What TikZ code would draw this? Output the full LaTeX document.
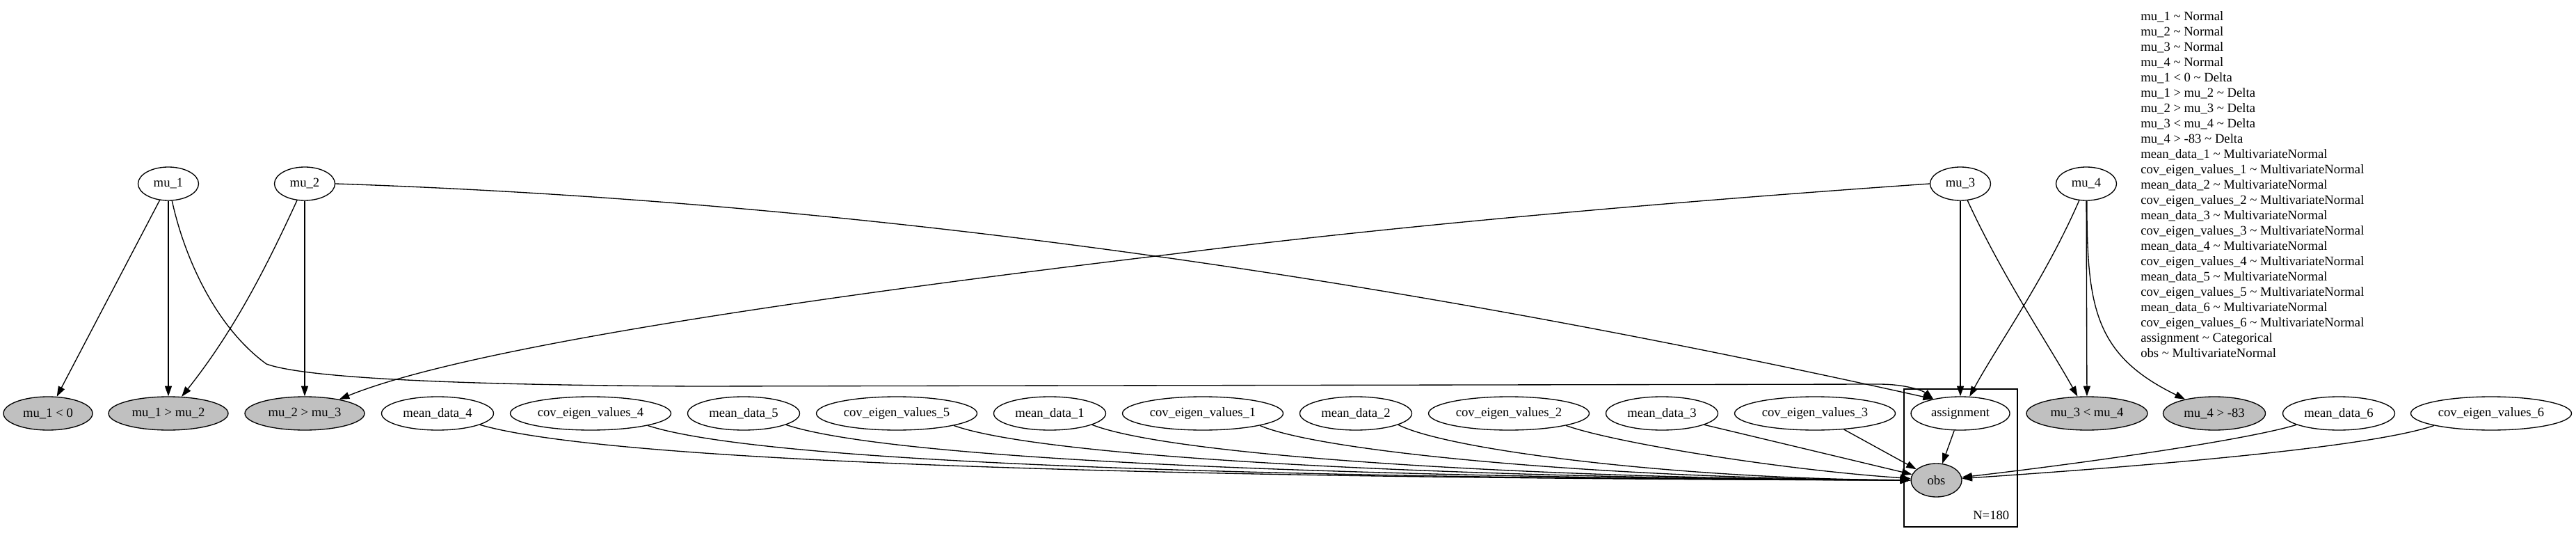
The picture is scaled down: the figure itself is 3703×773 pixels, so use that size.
\documentclass[tikz,border=0pt]{standalone}
\usepackage{fontspec}
\setmainfont{Liberation Serif}
\usetikzlibrary{shapes.geometric, arrows.meta}
\definecolor{gvgray}{HTML}{C0C0C0}
\newcommand{\gvtl}{\textasciitilde}
\begin{document}
\begin{tikzpicture}[x=0.75pt, y=-0.75pt,
  rv/.style={ellipse, draw=black, line width=1pt, inner sep=0pt, minimum height=36pt, font=\fontsize{14pt}{16.5pt}\selectfont},
  obsv/.style={rv, fill=gvgray},
  meanv/.style={rv, minimum width=120.75pt},
  covv/.style={rv, minimum width=173.25pt},
  edge/.style={draw=black, line width=1pt, -{Triangle[length=11pt,width=7.5pt]}},
  txt/.style={inner sep=0pt, font=\fontsize{14pt}{16.5pt}\selectfont}
]
\useasboundingbox (0,0) rectangle (3703,773);

% plate
\node[draw=black, line width=1pt, inner sep=0pt, minimum width=122.25pt, minimum height=148.5pt] (plate) at (2818.5,658) {};
\node[txt, anchor=base east] (nlab) at (2888.5,746.7) {N=180};

% top row
\node[rv, minimum width=65.25pt] (mu1) at (242,264) {mu\_1};
\node[rv, minimum width=65.25pt] (mu2) at (438,264) {mu\_2};
\node[rv, minimum width=65.25pt] (mu3) at (2818,264) {mu\_3};
\node[rv, minimum width=65.25pt] (mu4) at (2999,264) {mu\_4};

% bottom row
\node[obsv, minimum width=96pt] (mu10) at (69,594) {mu\_1 < 0};
\node[obsv, minimum width=129pt] (mu12) at (242,594) {mu\_1 > mu\_2};
\node[obsv, minimum width=129pt] (mu23) at (438,594) {mu\_2 > mu\_3};
\node[meanv] (md4) at (629,594) {mean\_data\_4};
\node[covv] (cv4) at (849,594) {cov\_eigen\_values\_4};
\node[meanv] (md5) at (1069,594) {mean\_data\_5};
\node[covv] (cv5) at (1289,594) {cov\_eigen\_values\_5};
\node[meanv] (md1) at (1509,594) {mean\_data\_1};
\node[covv] (cv1) at (1729,594) {cov\_eigen\_values\_1};
\node[meanv] (md2) at (1949,594) {mean\_data\_2};
\node[covv] (cv2) at (2169,594) {cov\_eigen\_values\_2};
\node[meanv] (md3) at (2389,594) {mean\_data\_3};
\node[covv] (cv3) at (2609,594) {cov\_eigen\_values\_3};
\node[rv, minimum width=106.5pt] (asg) at (2818,594) {assignment};
\node[obsv, minimum width=130.5pt] (mu34) at (3000,594) {mu\_3 < mu\_4};
\node[obsv, minimum width=110.25pt] (m483) at (3183,594) {mu\_4 > -83};
\node[meanv] (md6) at (3362,594) {mean\_data\_6};
\node[covv] (cv6) at (3581,594) {cov\_eigen\_values\_6};
\node[obsv, minimum width=54.75pt] (obs) at (2783.5,690) {obs};

% legend
\node[txt, anchor=base west] (legend) at (3077,29.3) {\vtop{\baselineskip=16.5pt
\hbox{mu\_1 \gvtl{} Normal}
\hbox{mu\_2 \gvtl{} Normal}
\hbox{mu\_3 \gvtl{} Normal}
\hbox{mu\_4 \gvtl{} Normal}
\hbox{mu\_1 < 0 \gvtl{} Delta}
\hbox{mu\_1 > mu\_2 \gvtl{} Delta}
\hbox{mu\_2 > mu\_3 \gvtl{} Delta}
\hbox{mu\_3 < mu\_4 \gvtl{} Delta}
\hbox{mu\_4 > -83 \gvtl{} Delta}
\hbox{mean\_data\_1 \gvtl{} MultivariateNormal}
\hbox{cov\_eigen\_values\_1 \gvtl{} MultivariateNormal}
\hbox{mean\_data\_2 \gvtl{} MultivariateNormal}
\hbox{cov\_eigen\_values\_2 \gvtl{} MultivariateNormal}
\hbox{mean\_data\_3 \gvtl{} MultivariateNormal}
\hbox{cov\_eigen\_values\_3 \gvtl{} MultivariateNormal}
\hbox{mean\_data\_4 \gvtl{} MultivariateNormal}
\hbox{cov\_eigen\_values\_4 \gvtl{} MultivariateNormal}
\hbox{mean\_data\_5 \gvtl{} MultivariateNormal}
\hbox{cov\_eigen\_values\_5 \gvtl{} MultivariateNormal}
\hbox{mean\_data\_6 \gvtl{} MultivariateNormal}
\hbox{cov\_eigen\_values\_6 \gvtl{} MultivariateNormal}
\hbox{assignment \gvtl{} Categorical}
\hbox{obs \gvtl{} MultivariateNormal}}};

% edges from top row
\draw[edge] (mu1) -- (mu10);
\draw[edge] (mu1) -- (mu12);
\draw[edge] (mu2) .. controls (381,388) and (335,477) .. (mu12);
\draw[edge] (mu2) -- (mu23);
\draw[edge] (mu1) .. controls (265,370) and (310,470) .. (383,523)
  .. controls (430,540) and (600,553) .. (1000,555) -- (2700,552)
  .. controls (2742,552) and (2765,562) .. (asg.152);
\draw[edge] (mu2.east) .. controls (1250,290) and (2000,400) .. (asg.152);
\draw[edge] (mu3.west) .. controls (2400,290) and (2000,325) .. (1686,365)
  .. controls (1286,413) and (691,491) .. (mu23);
\draw[edge] (mu3) -- (asg);
\draw[edge] (mu3.-67) .. controls (2880,400) and (2945,495) .. (mu34);
\draw[edge] (mu4.-113) .. controls (2940,400) and (2872,495) .. (asg);
\draw[edge] (mu4) -- (mu34);
\draw[edge] (mu4.-88) .. controls (3000,440) and (3010,510) .. (m483);

% edges into obs
\draw[edge] (asg) -- (obs);
\draw[edge] (md4.-15) .. controls (895,670) and (1821,688) .. (obs);
\draw[edge] (cv4.-12) .. controls (1112,670) and (1929,688) .. (obs);
\draw[edge] (md5.-15) .. controls (1291,664) and (2019,688) .. (obs);
\draw[edge] (cv5.-12) .. controls (1508,660) and (2127,688) .. (obs);
\draw[edge] (md1.-15) .. controls (1687,656) and (2217,688) .. (obs);
\draw[edge] (cv1.-12) .. controls (1904,651) and (2325,688) .. (obs);
\draw[edge] (md2.-15) .. controls (2082,647) and (2414,688) .. (obs);
\draw[edge] (cv2.-12) .. controls (2320,636) and (2560,675) .. (obs);
\draw[edge] (md3.-15) -- (obs);
\draw[edge] (cv3.-29) -- (obs);
\draw[edge] (md6.195) .. controls (3230,632) and (3000,665) .. (obs);
\draw[edge] (cv6.192) .. controls (3400,645) and (3050,672) .. (obs);
\end{tikzpicture}
\end{document}
